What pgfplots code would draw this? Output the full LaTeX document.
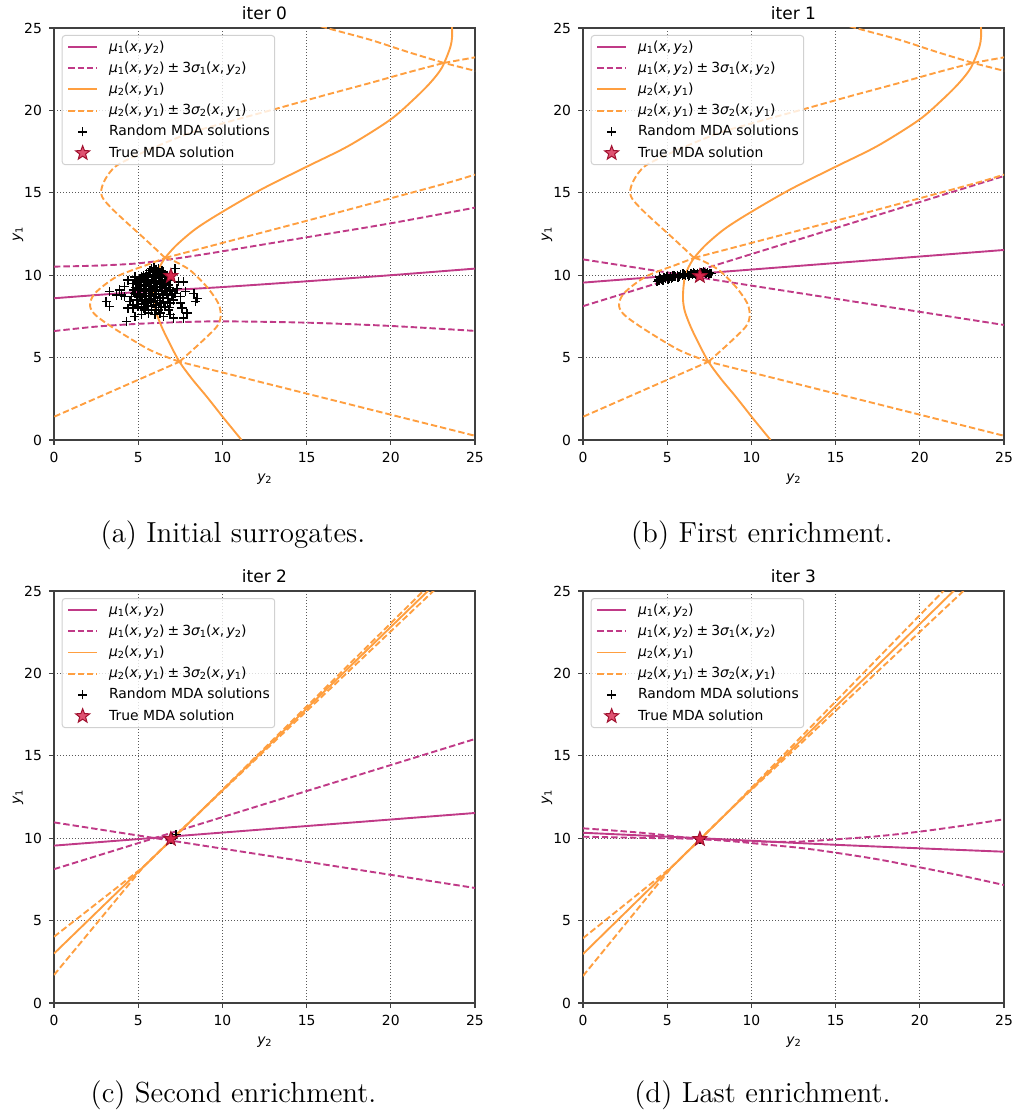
\documentclass[border=0pt]{standalone}
\usepackage{fontspec}
\usepackage{pgfplots}
\usepackage{pgfplotstable}
\pgfplotsset{compat=1.18}
\newfontfamily\dejavu{DejaVu Sans}

\definecolor{mucol}{HTML}{C03A87}
\definecolor{orcol}{HTML}{FF9F40}
\definecolor{starfill}{HTML}{D8284E}
\definecolor{staredge}{HTML}{A0102E}

\newcommand\axfont{\dejavu\fontsize{6.95}{8.3}\selectfont}
\newcommand\ttlfont{\dejavu\fontsize{8.5}{10}\selectfont}
\newcommand\capfont{\fontsize{14.5}{17}\selectfont}
\newcommand\vi[1]{{\itshape #1}}
\newcommand\sbs[1]{\raisebox{-0.3ex}{\fontsize{4.9}{5}\selectfont #1}}
\newcommand\cm{,\kern0.17em}
\newcommand\pmop{\kern0.22em±\kern0.22em}
\newcommand\muA{\vi{μ}\sbs{1}(\vi{x}\cm\vi{y}\sbs{2})}
\newcommand\muB{\vi{μ}\sbs{2}(\vi{x}\cm\vi{y}\sbs{1})}

% filled five-pointed star
\pgfdeclareplotmark{fstar}{%
  \pgfpathmoveto{\pgfpointpolar{90}{\pgfplotmarksize}}%
  \pgfpathlineto{\pgfpointpolar{126}{0.42\pgfplotmarksize}}%
  \pgfpathlineto{\pgfpointpolar{162}{\pgfplotmarksize}}%
  \pgfpathlineto{\pgfpointpolar{198}{0.42\pgfplotmarksize}}%
  \pgfpathlineto{\pgfpointpolar{234}{\pgfplotmarksize}}%
  \pgfpathlineto{\pgfpointpolar{270}{0.42\pgfplotmarksize}}%
  \pgfpathlineto{\pgfpointpolar{306}{\pgfplotmarksize}}%
  \pgfpathlineto{\pgfpointpolar{342}{0.42\pgfplotmarksize}}%
  \pgfpathlineto{\pgfpointpolar{18}{\pgfplotmarksize}}%
  \pgfpathlineto{\pgfpointpolar{54}{0.42\pgfplotmarksize}}%
  \pgfpathclose
  \pgfusepathqfillstroke}

\pgfplotsset{
  mdapanel/.style={
    scale only axis, width=210.5pt, height=206pt,
    xmin=0, xmax=25, ymin=0, ymax=25,
    xtick={0,5,...,25}, ytick={0,5,...,25},
    tick align=outside, tick pos=left,
    major tick length=2.5pt,
    tick style={black!75, line width=0.6pt},
    axis line style={black!75, line width=0.6pt},
    grid=major,
    major grid style={black!65, line width=0.45pt, dash pattern=on 0.5pt off 1pt},
    /pgf/number format/assume math mode=true,
    tick label style={font=\axfont},
    every axis title/.style={at={(axis description cs:0.5,1.0214)}, anchor=base, font=\ttlfont},
    every axis x label/.style={at={(axis description cs:0.5,-0.1007)}, anchor=base, font=\axfont},
    every axis y label/.style={at={(axis description cs:-0.0855,0.5)}, rotate=90, anchor=center, font=\axfont},
    xlabel={\vi{y}\sbs{2}}, ylabel={\vi{y}\sbs{1}},
    legend cell align=left,
    legend style={
      at={(axis description cs:0,1)}, anchor=north west,
      xshift=3.85pt, yshift=-3.5pt,
      draw=black!18, line width=0.5pt, rounded corners=1.5pt,
      fill=white, fill opacity=0.8, draw opacity=1, text opacity=1,
      font=\axfont, inner xsep=2.5pt, inner ysep=2.1pt,
      row sep=3.25pt,
      nodes={inner xsep=0pt, inner ysep=0pt, text height=5.7pt, text depth=1.65pt},
      /tikz/every odd column/.append style={column sep=5.5pt},
    },
  },
  mline/.style={color=mucol, line width=0.95pt},
  mdash/.style={color=mucol, line width=0.95pt, dash pattern=on 3.2pt off 1.5pt},
  oline/.style={color=orcol, line width=0.95pt},
  odash/.style={color=orcol, line width=0.95pt, dash pattern=on 3.2pt off 1.5pt},
  rnd/.style={only marks, mark=+, mark size=2.3pt, black, mark options={line width=0.75pt}},
  tru/.style={only marks, mark=fstar, mark size=3.7pt, mark options={fill=starfill, draw=staredge, line width=0.5pt}},
}

% legend samples, drawn explicitly
\newcommand\commonlegend{%
  \addlegendimage{legend image code/.code={\draw[mucol, line width=0.95pt] (0pt,0pt) -- (14.5pt,0pt);}}
  \addlegendentry{\muA}
  \addlegendimage{legend image code/.code={\draw[mucol, line width=0.95pt, dash pattern=on 3.2pt off 1.5pt] (0pt,0pt) -- (14.5pt,0pt);}}
  \addlegendentry{\muA\pmop3\vi{σ}\sbs{1}(\vi{x}\cm\vi{y}\sbs{2})}
  \addlegendimage{legend image code/.code={\draw[orcol, line width=0.95pt] (0pt,0pt) -- (14.5pt,0pt);}}
  \addlegendentry{\muB}
  \addlegendimage{legend image code/.code={\draw[orcol, line width=0.95pt, dash pattern=on 3.2pt off 1.5pt] (0pt,0pt) -- (14.5pt,0pt);}}
  \addlegendentry{\muB\pmop3\vi{σ}\sbs{2}(\vi{x}\cm\vi{y}\sbs{1})}
  \addlegendimage{legend image code/.code={\draw[black, line width=0.75pt] (5pt,0pt) -- (9.5pt,0pt) (7.25pt,-2.25pt) -- (7.25pt,2.25pt);}}
  \addlegendentry{Random MDA solutions}
  \addlegendimage{legend image code/.code={\draw[only marks, mark=fstar, mark size=3.7pt, mark options={fill=starfill, draw=staredge, line width=0.5pt}] plot coordinates {(7.25pt,0pt)};}}
  \addlegendentry{True MDA solution}
}

% ---------- discipline 2 surrogate, iterations 0 and 1 (y2 as a function of y1)
\pgfplotstableread{
y2 y1
11.14 0
10.10 1.30
9.07 2.63
8.20 3.70
7.45 4.75
6.85 5.90
6.39 6.88
6.05 7.80
5.94 8.50
5.96 9.20
6.05 9.91
6.25 10.45
6.60 11.05
7.28 11.83
8.40 12.80
9.86 13.76
12.30 15.20
15.00 16.58
17.50 17.85
19.95 19.42
21.34 20.65
22.33 21.66
23.02 22.57
23.52 23.79
23.64 24.50
23.62 25.30
}\orMeanAB
\pgfplotstableread{
y2 y1
-1 0.96
7.45 4.75
}\orLoA
\pgfplotstableread{
y2 y1
7.45 4.75
5.70 5.46
3.72 6.67
2.50 7.55
2.14 8.15
2.43 8.90
3.72 9.91
5.50 10.62
6.60 11.05
}\orLoB
\pgfplotstableread{
y2 y1
6.60 11.05
5.50 12.10
3.72 13.76
2.95 14.60
2.80 15.10
3.03 15.80
3.72 16.65
5.50 17.55
8.00 18.60
10.50 19.35
13.20 20.10
16.00 20.90
18.76 21.66
21.00 22.30
23.15 22.88
}\orLoC
\pgfplotstableread{
y2 y1
23.15 22.88
21.00 23.55
18.76 24.29
16.19 25.00
14.50 25.50
}\orLoD
\pgfplotstableread{
y2 y1
26 0
7.45 4.75
}\orUpA
\pgfplotstableread{
y2 y1
7.45 4.75
8.67 5.87
9.66 6.87
9.90 7.50
9.76 8.29
9.07 9.30
8.08 10.30
7.09 10.88
6.60 11.05
}\orUpB
\pgfplotstableread{
y2 y1
6.60 11.05
15.00 13.30
22.90 15.47
25.00 16.10
27.00 16.70
}\orUpC
\pgfplotstableread{
y2 y1
27 21.90
25 22.40
23.15 22.88
}\orUpD
\pgfplotstableread{
y2 y1
23.15 22.88
25 23.22
27 23.60
}\orUpE

% ---------- random MDA solutions
\pgfplotstableread{
y2 y1
5.1 9.8
5.3 10.0
5.5 10.1
5.7 10.3
5.9 10.2
6.1 10.3
6.3 10.1
5.6 9.9
5.8 9.7
6.0 9.9
6.2 9.8
6.4 9.6
5.4 9.6
5.2 9.4
5.5 9.3
5.7 9.5
5.9 9.3
6.1 9.5
6.3 9.3
6.5 9.5
6.6 9.2
6.8 9.4
5.0 9.2
5.3 9.1
5.6 9.0
5.8 8.9
6.0 9.1
6.2 8.9
6.4 9.0
6.7 8.9
6.9 9.1
4.8 8.9
5.1 8.8
5.4 8.7
5.7 8.6
6.0 8.7
6.3 8.6
6.5 8.4
6.8 8.6
7.0 8.8
4.9 8.5
5.2 8.4
5.5 8.3
5.9 8.4
6.1 8.2
6.6 8.1
4.6 8.7
4.5 8.4
4.7 8.2
5.0 8.1
5.3 8.0
5.6 7.9
5.8 8.1
6.2 7.9
6.9 8.3
7.1 8.5
7.2 8.9
7.3 9.2
6.9 9.7
6.6 9.9
6.5 10.2
6.7 10.0
5.9 10.0
6.0 9.6
5.7 9.2
5.3 8.9
5.1 9.6
4.9 9.5
4.7 9.1
5.8 10.4
6.2 10.4
6.4 10.3
5.5 9.7
6.1 9.0
5.9 8.6
6.3 8.3
5.4 8.5
6.7 9.6
6.5 8.8
5.6 8.5
5.2 9.9
5.0 9.6
4.8 9.9
5.45 9.85
5.65 10.15
5.85 9.95
6.05 10.15
6.25 9.95
6.45 9.75
5.35 9.45
5.55 9.55
5.75 9.35
5.95 9.65
6.15 9.25
6.35 9.45
6.55 9.05
5.15 9.15
5.45 9.05
5.65 8.75
5.85 9.15
6.05 8.85
6.25 8.45
6.45 8.65
6.75 8.35
5.25 8.65
5.55 8.15
5.75 8.35
6.05 8.05
6.35 8.05
6.85 8.05
4.95 8.75
4.85 9.25
5.05 9.45
6.65 9.45
6.85 9.25
7.05 9.0
5.95 10.45
6.05 10.35
5.65 9.15
5.35 8.25
6.15 8.45
3.1 8.4
3.3 8.1
3.3 9.0
3.9 9.1
4.2 9.3
4.7 9.5
4.3 7.2
4.8 7.5
4.7 8.0
4.2 8.7
4.0 8.8
4.4 9.7
7.2 10.4
7.4 9.6
7.7 9.6
8.3 8.9
8.5 8.6
8.4 8.4
7.5 8.3
7.6 8.0
7.7 7.4
7.9 7.7
6.9 7.6
6.8 7.9
6.3 7.7
6.5 7.5
7.1 7.4
5.8 7.9
5.6 7.7
5.2 7.6
7.8 9.0
7.5 8.7
6.0 7.6
5.4 7.9
4.4 8.0
3.7 8.8
}\rndA
\pgfplotstableread{
y2 y1
4.50 9.70
4.60 9.80
4.70 9.75
4.80 9.85
4.90 9.80
5.00 9.90
5.10 9.82
5.20 9.92
5.30 9.87
5.40 9.95
5.50 9.90
5.60 10.00
5.70 9.93
5.80 10.02
5.90 9.97
6.00 10.05
6.10 9.98
6.20 10.05
6.30 10.00
6.40 10.08
6.50 10.02
6.60 10.10
6.70 10.04
6.80 10.12
6.90 10.05
7.00 10.13
7.10 10.08
7.20 10.15
7.30 10.10
7.40 10.17
7.50 10.12
7.60 10.10
4.40 9.62
4.55 9.90
5.05 9.75
5.35 10.00
5.65 9.85
5.95 10.10
6.25 9.92
6.55 10.15
6.85 9.98
7.15 10.20
7.45 10.05
4.75 9.68
5.25 9.78
}\rndB

\begin{document}
\begin{tikzpicture}
\useasboundingbox (0,0) rectangle (506pt,557.5pt);

% ===================== iter 0
\begin{axis}[mdapanel, at={(27pt,337.5pt)}, anchor=south west, title={iter 0}]
\commonlegend
\addplot[mline, smooth, forget plot] coordinates {(0,8.6) (5,8.98) (10,9.28) (15,9.63) (20,10.0) (25,10.4)};
\addplot[mdash, smooth, forget plot] coordinates {(0,10.52) (2.5,10.58) (5,10.72) (7.5,11.05) (10,11.45) (15,12.3) (20,13.15) (25,14.1)};
\addplot[mdash, smooth, forget plot] coordinates {(0,6.61) (2.5,6.88) (5,7.05) (7.5,7.15) (10,7.2) (15,7.12) (20,6.92) (25,6.62)};
\addplot[oline, smooth, forget plot] table[x=y2, y=y1] {\orMeanAB};
\addplot[odash, forget plot] table[x=y2, y=y1] {\orLoA};
\addplot[odash, smooth, forget plot] table[x=y2, y=y1] {\orLoB};
\addplot[odash, smooth, forget plot] table[x=y2, y=y1] {\orLoC};
\addplot[odash, smooth, forget plot] table[x=y2, y=y1] {\orLoD};
\addplot[odash, forget plot] table[x=y2, y=y1] {\orUpA};
\addplot[odash, smooth, forget plot] table[x=y2, y=y1] {\orUpB};
\addplot[odash, smooth, forget plot] table[x=y2, y=y1] {\orUpC};
\addplot[odash, forget plot] table[x=y2, y=y1] {\orUpD};
\addplot[odash, forget plot] table[x=y2, y=y1] {\orUpE};
\addplot[rnd, forget plot] table[x=y2, y=y1] {\rndA};
\addplot[tru, forget plot] coordinates {(6.94,9.95)};
\end{axis}

% ===================== iter 1
\begin{axis}[mdapanel, at={(291.5pt,337.5pt)}, anchor=south west, title={iter 1}]
\commonlegend
\addplot[mline, forget plot] coordinates {(0,9.55) (25,11.53)};
\addplot[mdash, forget plot] coordinates {(0,10.96) (25,6.98)};
\addplot[mdash, forget plot] coordinates {(0,8.12) (25,16.02)};
\addplot[oline, smooth, forget plot] table[x=y2, y=y1] {\orMeanAB};
\addplot[odash, forget plot] table[x=y2, y=y1] {\orLoA};
\addplot[odash, smooth, forget plot] table[x=y2, y=y1] {\orLoB};
\addplot[odash, smooth, forget plot] table[x=y2, y=y1] {\orLoC};
\addplot[odash, smooth, forget plot] table[x=y2, y=y1] {\orLoD};
\addplot[odash, forget plot] table[x=y2, y=y1] {\orUpA};
\addplot[odash, smooth, forget plot] table[x=y2, y=y1] {\orUpB};
\addplot[odash, smooth, forget plot] table[x=y2, y=y1] {\orUpC};
\addplot[odash, forget plot] table[x=y2, y=y1] {\orUpD};
\addplot[odash, forget plot] table[x=y2, y=y1] {\orUpE};
\addplot[rnd, forget plot] table[x=y2, y=y1] {\rndB};
\addplot[tru, forget plot] coordinates {(6.94,9.95)};
\end{axis}

% ===================== iter 2
\begin{axis}[mdapanel, at={(27pt,56pt)}, anchor=south west, title={iter 2}]
\commonlegend
\addplot[mline, forget plot] coordinates {(0,9.55) (25,11.53)};
\addplot[mdash, forget plot] coordinates {(0,10.96) (25,6.98)};
\addplot[mdash, forget plot] coordinates {(0,8.12) (25,16.02)};
\addplot[oline, forget plot] coordinates {(0,3.0) (23,25.79)};
\addplot[odash, forget plot] coordinates {(0,4.02) (5.3,8.25) (8.6,11.52) (21.93,25) (22.5,25.58)};
\addplot[odash, forget plot] coordinates {(0,1.70) (5.3,8.25) (8.6,11.52) (22.53,25) (23.1,25.55)};
\addplot[rnd, forget plot] coordinates {(6.95,9.95) (7.05,10.02) (7.25,10.22)};
\addplot[tru, forget plot] coordinates {(6.94,9.95)};
\end{axis}

% ===================== iter 3
\begin{axis}[mdapanel, at={(291.5pt,56pt)}, anchor=south west, title={iter 3}]
\commonlegend
\addplot[mline, smooth, forget plot] coordinates {(0,10.33) (6.95,10.0) (15,9.6) (25,9.18)};
\addplot[mdash, smooth, forget plot] coordinates {(0,10.6) (2,10.45) (4,10.28) (6.95,9.95) (9,9.85) (11,9.78) (13,9.8) (15,9.93) (17.5,10.12) (20,10.4) (22.5,10.75) (25,11.15)};
\addplot[mdash, smooth, forget plot] coordinates {(0,10.09) (3.5,10.02) (6.95,9.95) (9,9.8) (11,9.6) (13,9.4) (15,9.12) (17.5,8.72) (20,8.23) (22.5,7.72) (25,7.16)};
\addplot[oline, forget plot] coordinates {(0,2.97) (22.8,25.8)};
\addplot[odash, forget plot] coordinates {(0,3.93) (5.3,8.28) (8.6,11.59) (21.4,25) (22,25.63)};
\addplot[odash, forget plot] coordinates {(0,1.64) (5.3,8.28) (8.6,11.59) (22.59,25) (23.2,25.58)};
\addplot[rnd, forget plot] coordinates {(6.95,9.95)};
\addplot[tru, forget plot] coordinates {(6.94,9.95)};
\end{axis}

% sub-captions
\node[font=\capfont] at (116.5pt,290pt) {(a) Initial surrogates.};
\node[font=\capfont] at (381pt,290pt) {(b) First enrichment.};
\node[font=\capfont] at (116.75pt,10pt) {(c) Second enrichment.};
\node[font=\capfont] at (381.25pt,10pt) {(d) Last enrichment.};
\end{tikzpicture}
\end{document}
